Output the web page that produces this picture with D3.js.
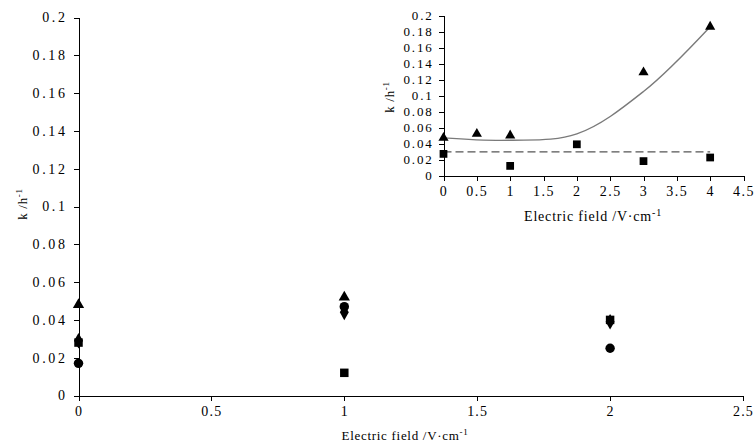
<!DOCTYPE html>
<html>
<head>
<meta charset="utf-8">
<script src="https://cdn.jsdelivr.net/npm/d3@7"></script>
<style>
  body { margin: 0; background: #fff; }
  svg text { font-family: "Liberation Serif", "Times New Roman", serif; fill: #000; }
</style>
</head>
<body>
<svg id="chart" width="754" height="448"></svg>
<script>
// main chart data
const mainField = [0, 1, 2];
const mainTriangle = [0.048, 0.052, null];
const mainDiamond = [0.029, 0.044, 0.039];
const mainCircle = [0.017, 0.047, 0.025];
const mainSquare = [0.028, 0.012, 0.040];
const mainXTicks = [0, 0.5, 1, 1.5, 2, 2.5];
const mainYTicks = [0, 0.02, 0.04, 0.06, 0.08, 0.1, 0.12, 0.14, 0.16, 0.18, 0.2];

// inset data
const insetTriField = [0, 0.5, 1, 3, 4];
const insetTriK = [0.047, 0.052, 0.050, 0.129, 0.186];
const insetSqField = [0, 1, 2, 3, 4];
const insetSqK = [0.027, 0.012, 0.039, 0.018, 0.0225];
const fitField = [0, 1, 2, 3, 4];
const fitK = [0.047, 0.044, 0.052, 0.105, 0.186];
const meanField = [0, 4];
const meanK = [0.0296, 0.0296];
const insetXTicks = [0, 0.5, 1, 1.5, 2, 2.5, 3, 3.5, 4, 4.5];
const insetYTicks = [0, 0.02, 0.04, 0.06, 0.08, 0.1, 0.12, 0.14, 0.16, 0.18, 0.2];

const svg = d3.select('#chart');

function styleText(sel, size, spacing) {
  sel.style('font-family', '"Liberation Serif", serif')
    .style('font-size', size + 'px').style('letter-spacing', spacing + 'px').attr('fill', '#000');
}

function drawAxes(g, x, y, xTicks, yTicks, o) {
  const xAxis = g.append('g')
    .attr('transform', `translate(0,${y(0)})`)
    .call(d3.axisBottom(x).tickValues(xTicks).tickSize(5).tickPadding(o.xPad).tickFormat(d3.format('')));
  const yAxis = g.append('g')
    .attr('transform', `translate(${x(0)},0)`)
    .call(d3.axisLeft(y).tickValues(yTicks).tickSize(5).tickPadding(o.yPad).tickFormat(d3.format('')));
  [xAxis, yAxis].forEach(a => {
    a.select('.domain').attr('stroke', '#000').attr('stroke-width', 1).attr('shape-rendering', 'crispEdges');
    a.selectAll('line').attr('stroke', '#000').attr('shape-rendering', 'crispEdges');
  });
  styleText(xAxis.selectAll('text'), o.xSize, o.xSpacing);
  styleText(yAxis.selectAll('text'), o.ySize, o.ySpacing);
}

function drawMarks(g, x, y, xs, ys, type, size) {
  const pts = xs.map((f, i) => ({f, k: ys[i]})).filter(d => d.k != null);
  g.selectAll(null).data(pts).join('path')
    .attr('d', d3.symbol().type(type).size(size))
    .attr('transform', d => `translate(${x(d.f)},${y(d.k)})`)
    .attr('fill', '#000');
}

function axisTitle(g, x, y, rotate, size, spacing, main) {
  const t = g.append('text')
    .attr('transform', `translate(${x},${y})` + (rotate ? ' rotate(-90)' : ''))
    .attr('text-anchor', 'middle')
    .html(main + '<tspan dy="-5" font-size="' + Math.round(size * 0.7) + '">-1</tspan>');
  styleText(t, size, spacing);
}

// main chart
const mx = d3.scaleLinear().domain([0, 2.5]).range([78.5, 743]);
const my = d3.scaleLinear().domain([0, 0.2]).range([395.5, 17.5]);
const mg = svg.append('g');
drawAxes(mg, mx, my, mainXTicks, mainYTicks,
  {xPad: 6, yPad: 6, xSize: 14, xSpacing: 1.2, ySize: 14, ySpacing: 2.6});

drawMarks(mg, mx, my, mainField, mainDiamond, d3.symbolDiamond, 70);
drawMarks(mg, mx, my, mainField, mainCircle, d3.symbolCircle, 70);
drawMarks(mg, mx, my, mainField, mainTriangle, d3.symbolTriangle, 55);
drawMarks(mg, mx, my, mainField, mainSquare, d3.symbolSquare, 72);

axisTitle(mg, 405, 440, false, 13, 0.7, 'Electric field /V·cm');
axisTitle(mg, 27, 204, true, 13, 0.7, 'k /h');

// inset chart
const ix = d3.scaleLinear().domain([0, 4.5]).range([443.5, 743.5]);
const iy = d3.scaleLinear().domain([0, 0.2]).range([175.5, 15.5]);
const ig = svg.append('g');
drawAxes(ig, ix, iy, insetXTicks, insetYTicks,
  {xPad: 6, yPad: 5, xSize: 14, xSpacing: 1.5, ySize: 13, ySpacing: 1.8});

ig.append('path')
  .datum(fitField.map((f, i) => [f, fitK[i]]))
  .attr('fill', 'none').attr('stroke', '#7a7a7a').attr('stroke-width', 1.4)
  .attr('d', d3.line().x(d => ix(d[0])).y(d => iy(d[1])).curve(d3.curveCatmullRom.alpha(0.5)));
ig.append('path')
  .datum(meanField.map((f, i) => [f, meanK[i]]))
  .attr('fill', 'none').attr('stroke', '#555').attr('stroke-width', 1.3).attr('stroke-dasharray', '8,4')
  .attr('d', d3.line().x(d => ix(d[0])).y(d => iy(d[1])));

drawMarks(ig, ix, iy, insetTriField, insetTriK, d3.symbolTriangle, 45);
drawMarks(ig, ix, iy, insetSqField, insetSqK, d3.symbolSquare, 60);

axisTitle(ig, 593, 221, false, 14, 0.8, 'Electric field /V·cm');
axisTitle(ig, 394, 97, true, 13, 0.7, 'k /h');
</script>
</body>
</html>
